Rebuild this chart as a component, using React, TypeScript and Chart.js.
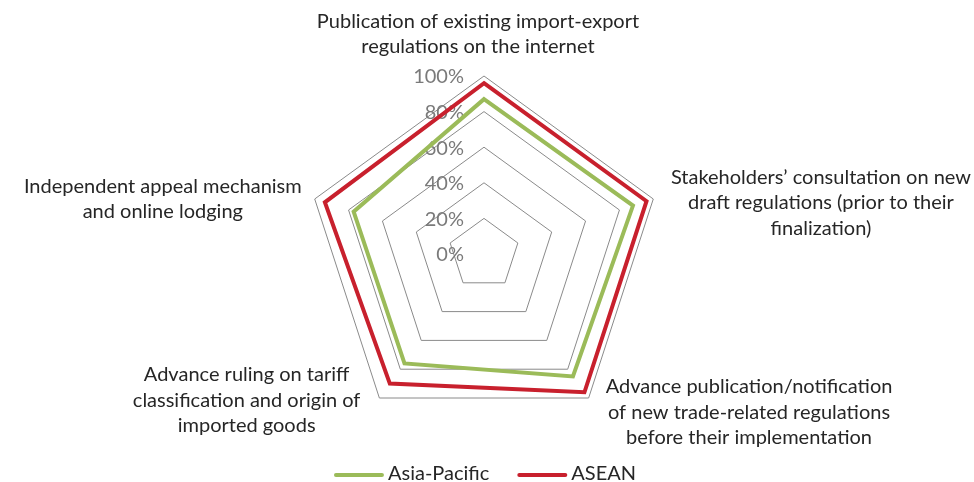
import React, { useEffect, useRef } from "react";
import { Chart, registerables } from "chart.js";

Chart.register(...registerables);

// ---- data ----
const categories: string[][] = [
  ["Publication of existing import-export", "regulations on the internet"],
  ["Stakeholders\u2019 consultation on new", "draft regulations (prior to their", "finalization)"],
  ["Advance publication/notification", "of new trade-related regulations", "before their implementation"],
  ["Advance ruling on tariff", "classification and origin of", "imported goods"],
  ["Independent appeal mechanism", "and online lodging"],
];
const seriesNames = ["Asia-Pacific", "ASEAN"];
const asiaPacific = [87, 88, 85, 76, 77];
const asean = [96, 96, 96, 90, 94];
const tickMin = 0;
const tickMax = 100;
const tickStep = 20;

// ---- style ----
const FONT = "Lato";
const GREEN = "#9bbb59";
const RED = "#c8202d";
const GRID = "#8a8a8a";
const TEXT = "#262626";
const TICK_TEXT = "#7a7a7a";

// label placement relative to each outer vertex
const labelPlacement = [
  { side: "top", gap: 29, dy: 0 },
  { side: "right", gap: 192, dy: 4 }, // gap = distance from vertex to block centre
  { side: "right-down", gap: 17, dy: -11 },
  { side: "left-down", gap: 19, dy: -23 },
  { side: "left", gap: 13, dy: 0 },
];

const LINE_H = 25.5;

const overlayPlugin = {
  id: "overlay",
  beforeDatasetsDraw(chart: any) {
    const scale = chart.scales.r;
    const ctx = chart.ctx;
    ctx.save();
    ctx.font = `20px ${FONT}`;
    ctx.fillStyle = TICK_TEXT;
    ctx.textAlign = "right";
    ctx.textBaseline = "middle";
    scale.ticks.forEach((t: any) => {
      const d = scale.getDistanceFromCenterForValue(t.value);
      ctx.fillText(t.label, scale.xCenter - 20, scale.yCenter - d + 1);
    });
    ctx.restore();
  },
  afterDraw(chart: any) {
    const scale = chart.scales.r;
    const ctx = chart.ctx;
    ctx.save();
    ctx.font = `20px ${FONT}`;
    ctx.fillStyle = TEXT;
    ctx.textAlign = "center";
    ctx.textBaseline = "middle";
    const labels: string[][] = chart.data.labels;
    labels.forEach((lines, i) => {
      const v = scale.getPointPosition(i, scale.drawingArea);
      const p = labelPlacement[i];
      const w = Math.max(...lines.map((l) => ctx.measureText(l).width));
      let cx = v.x;
      let firstY = v.y;
      const n = lines.length;
      if (p.side === "top") {
        cx = v.x - 6;
        firstY = v.y - p.gap - (n - 1) * LINE_H;
      } else if (p.side === "right") {
        cx = Math.min(v.x + p.gap, chart.width - 3 - w / 2);
        firstY = v.y + p.dy - ((n - 1) * LINE_H) / 2;
      } else if (p.side === "right-down") {
        cx = v.x + p.gap + w / 2;
        firstY = v.y + p.dy;
      } else {
        cx = Math.max(v.x - p.gap - w / 2, 3 + w / 2);
        firstY = p.side === "left" ? v.y + p.dy - ((n - 1) * LINE_H) / 2 : v.y + p.dy;
      }
      lines.forEach((l, k) => ctx.fillText(l, cx, firstY + k * LINE_H));
    });

    // legend
    const items = chart.data.datasets.map((ds: any) => ({
      text: ds.label,
      color: ds.borderColor,
      width: ds.borderWidth,
    }));
    const sample = 46;
    const gapText = 6;
    const spacing = 30;
    const widths = items.map((it: any) => sample + gapText + ctx.measureText(it.text).width);
    const total = widths.reduce((a: number, b: number) => a + b, 0) + spacing * (items.length - 1);
    let x = scale.xCenter + 2 - total / 2;
    const ly = chart.height - 7;
    ctx.textAlign = "left";
    items.forEach((it: any, k: number) => {
      ctx.strokeStyle = it.color;
      ctx.lineWidth = it.width;
      ctx.lineCap = "round";
      ctx.beginPath();
      ctx.moveTo(x, ly);
      ctx.lineTo(x + sample, ly);
      ctx.stroke();
      ctx.fillStyle = TEXT;
      ctx.fillText(it.text, x + sample + gapText, ly - 1);
      x += widths[k] + spacing;
    });
    ctx.restore();
  },
};

export default function App() {
  const ref = useRef<HTMLCanvasElement>(null);
  useEffect(() => {
    document.body.style.margin = "0";
    const chart = new Chart(ref.current!, {
      type: "radar",
      data: {
        labels: categories as any,
        datasets: [
          {
            label: seriesNames[0],
            data: asiaPacific,
            borderColor: GREEN,
            backgroundColor: "transparent",
            borderWidth: 4,
            pointRadius: 0,
            pointHoverRadius: 0,
            fill: false,
            borderJoinStyle: "miter",
          },
          {
            label: seriesNames[1],
            data: asean,
            borderColor: RED,
            backgroundColor: "transparent",
            borderWidth: 4,
            pointRadius: 0,
            pointHoverRadius: 0,
            fill: false,
            borderJoinStyle: "miter",
          },
        ],
      },
      options: {
        animation: false,
        responsive: false,
        maintainAspectRatio: false,
        layout: { padding: { top: 76, bottom: 50, left: 306, right: 312 } },
        plugins: { legend: { display: false }, tooltip: { enabled: false } },
        scales: {
          r: {
            min: tickMin,
            max: tickMax,
            beginAtZero: true,
            ticks: {
              display: false,
              stepSize: tickStep,
              callback: (v: any) => `${v}%`,
            },
            grid: { color: GRID, lineWidth: 1 },
            angleLines: { display: false },
            pointLabels: { display: false },
          },
        },
      },
      plugins: [overlayPlugin],
    });
    return () => chart.destroy();
  }, []);
  return (
    <div style={{ width: 974, height: 482 }}>
      <canvas ref={ref} width={974} height={482} style={{ display: "block" }} />
    </div>
  );
}
